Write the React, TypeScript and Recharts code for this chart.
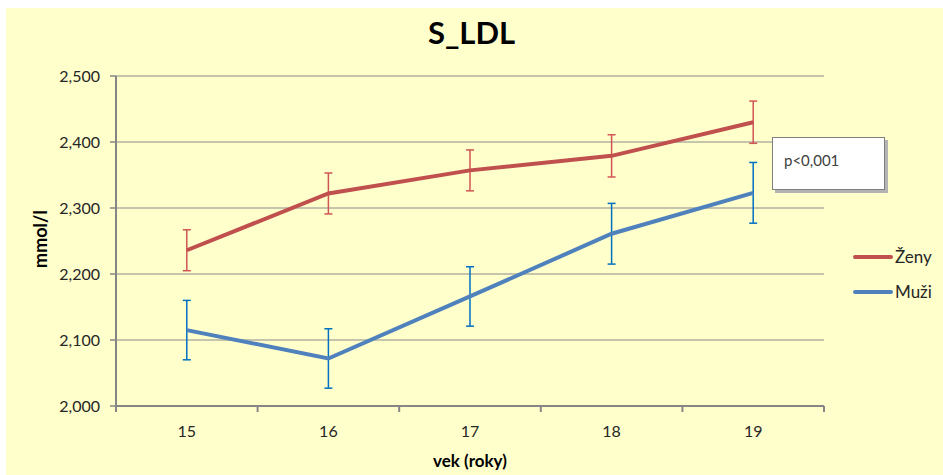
import React from 'react';
import { ComposedChart, Line, XAxis, YAxis, CartesianGrid, ErrorBar, Legend } from 'recharts';

// vek (roky)
const ages = [15, 16, 17, 18, 19];
// S_LDL, mmol/l
const zeny = [2.236, 2.322, 2.357, 2.379, 2.430];
const zenyErr = [0.031, 0.031, 0.031, 0.032, 0.032];
const muzi = [2.115, 2.072, 2.166, 2.261, 2.323];
const muziErr = [0.045, 0.045, 0.045, 0.046, 0.046];

const seriesNames = ['Ženy', 'Muži'];
const yTicks = [2.0, 2.1, 2.2, 2.3, 2.4, 2.5];
// integer ticks get a label, the half ones a tick mark between categories
const xTicks = [14.5, 15, 15.5, 16, 16.5, 17, 17.5, 18, 18.5, 19, 19.5];

const data = ages.map((age, i) => ({
  age,
  zeny: zeny[i],
  zenyErr: zenyErr[i],
  muzi: muzi[i],
  muziErr: muziErr[i]
}));

const FONT = 'Lato, "Open Sans", sans-serif';
const AXIS = '#868686';
const TEXT = '#262626';

const AgeTick = (props: any) => {
  const { x, y, payload } = props;
  const v = payload.value;
  if (v % 1 !== 0) {
    return <line x1={x} x2={x} y1={y} y2={y + 6} stroke={AXIS} strokeWidth={2} />;
  }
  return (
    <text x={x} y={y + 31} textAnchor="middle" fill={TEXT} fontSize={16} fontFamily={FONT}>
      {v}
    </text>
  );
};

const renderLegend = (props: any) => {
  // keep the series order, not the alphabetical one
  const items = [...(props.payload || [])].sort(
    (a: any, b: any) => seriesNames.indexOf(a.value) - seriesNames.indexOf(b.value)
  );
  return (
    <div>
      {items.map((entry: any) => (
        <div key={entry.value} style={{ display: 'flex', alignItems: 'center', height: 35 }}>
          <span style={{ display: 'inline-block', width: 40, height: 4, borderRadius: 2, background: entry.color }} />
          <span style={{ marginLeft: 2, fontSize: 17, fontFamily: FONT, color: TEXT }}>{entry.value}</span>
        </div>
      ))}
    </div>
  );
};

export default function App() {
  return (
    <div style={{ position: 'absolute', left: 0, top: 0, width: 943, height: 475, background: '#fff', overflow: 'hidden' }}>
      <div style={{ position: 'absolute', left: 6, top: 8, width: 937, height: 467, background: '#FFFFCC' }} />

      <div
        style={{
          position: 'absolute', left: 0, top: 17, width: 943, textAlign: 'center',
          fontFamily: FONT, fontWeight: 700, fontSize: 31, lineHeight: '31px', color: '#000'
        }}
      >
        S_LDL
      </div>

      <div style={{ position: 'absolute', left: 40, top: 239, width: 0, height: 0 }}>
        <div
          style={{
            position: 'absolute', transform: 'translate(-50%, -50%) rotate(-90deg)', whiteSpace: 'nowrap',
            fontFamily: FONT, fontWeight: 700, fontSize: 18, color: '#000'
          }}
        >
          mmol/l
        </div>
      </div>

      <div style={{ position: 'absolute', left: 0, top: 0 }}>
        <ComposedChart width={943} height={475} data={data} margin={{ top: 76, right: 119, left: 36, bottom: 0 }}>
          <CartesianGrid horizontal vertical={false} stroke="#8c8c8c" strokeWidth={1.2} />
          <XAxis
            dataKey="age"
            type="number"
            domain={[14.5, 19.5]}
            ticks={xTicks}
            interval={0}
            height={69}
            tickSize={0}
            tickMargin={0}
            tickLine={false}
            tick={<AgeTick />}
            axisLine={{ stroke: AXIS, strokeWidth: 2 }}
            label={{ value: 'vek (roky)', position: 'insideBottom', offset: 8, style: { fontFamily: FONT, fontWeight: 700, fontSize: 17, fill: '#000' } }}
          />
          <YAxis
            type="number"
            domain={[2.0, 2.5]}
            ticks={yTicks}
            width={80}
            tickSize={6}
            tickMargin={10}
            tickLine={{ stroke: AXIS, strokeWidth: 1.5 }}
            axisLine={{ stroke: AXIS, strokeWidth: 2 }}
            tick={{ fontSize: 16, fill: TEXT, fontFamily: FONT }}
            tickFormatter={(v: number) => v.toFixed(3).replace('.', ',')}
          />
          <Legend layout="vertical" align="center" verticalAlign="middle" content={renderLegend}
            wrapperStyle={{ position: 'absolute', left: 853, top: 239, width: 90 }} />
          <Line type="linear" dataKey="zeny" name="Ženy" stroke="#C0504D" strokeWidth={4} dot={false} activeDot={false} isAnimationActive={false}>
            <ErrorBar dataKey="zenyErr" direction="y" width={4} stroke="#D05555" strokeWidth={1.5} isAnimationActive={false} />
          </Line>
          <Line type="linear" dataKey="muzi" name="Muži" stroke="#4F81BD" strokeWidth={4} dot={false} activeDot={false} isAnimationActive={false}>
            <ErrorBar dataKey="muziErr" direction="y" width={4} stroke="#0070C0" strokeWidth={1.5} isAnimationActive={false} />
          </Line>
        </ComposedChart>
      </div>

      <div
        style={{
          position: 'absolute', left: 772, top: 137, width: 113, height: 53, boxSizing: 'border-box',
          background: '#fff', border: '1px solid #7f7f7f', boxShadow: '3px 3px 0 #b4b4b4',
          fontFamily: FONT, fontSize: 15, color: '#404040', paddingLeft: 11, paddingTop: 13
        }}
      >
        p&lt;0,001
      </div>
    </div>
  );
}
